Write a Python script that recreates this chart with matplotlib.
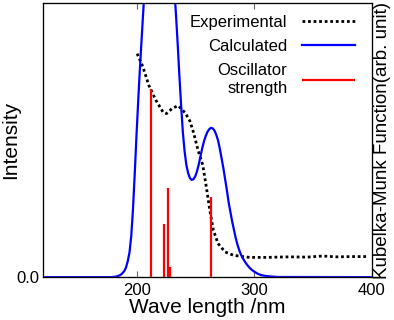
import numpy as np
import matplotlib
matplotlib.use("Agg")
from matplotlib import pyplot as plt

plt.rcParams['font.family'] = ['Liberation Sans', 'DejaVu Sans']

# experimental Kubelka-Munk curve
exp_wl = [200, 205, 210, 216, 222, 225, 230, 235, 241, 245, 248, 252, 256, 259, 262,
          265, 269, 275, 282, 290, 296, 310, 330, 345, 358, 370, 385, 397]
exp_val = [0.816, 0.767, 0.700, 0.646, 0.603, 0.597, 0.616, 0.626, 0.600, 0.570, 0.530,
           0.463, 0.41, 0.33, 0.245, 0.172, 0.123, 0.092, 0.080, 0.075, 0.072, 0.072,
           0.074, 0.073, 0.077, 0.074, 0.075, 0.075]

# calculated spectrum (values above 1 are clipped by the axes)
calc_wl = [120, 178, 182, 185, 187, 189, 190.5, 192, 193.5, 195, 196.5, 198, 199.5,
           201, 202.5, 204, 205.5, 207, 210, 214, 218, 222, 226, 229, 231, 233, 234.5,
           236, 237.5, 239, 240.5, 242, 243.5, 245, 246.5, 248, 249.5, 251, 252.5, 254,
           255.5, 257, 258.5, 260, 261.5, 263, 264.5, 266, 267.5, 269, 270.5, 272,
           273.5, 275, 276.5, 278, 279.5, 281, 282.5, 284, 285.5, 287, 288.5, 290, 292,
           294, 296, 298, 300, 303, 306, 310, 315, 320, 400]
calc_val = [0.0, 0.0, 0.002, 0.006, 0.012, 0.022, 0.035, 0.058, 0.09, 0.15, 0.25, 0.38,
            0.52, 0.65, 0.77, 0.88, 0.99, 1.09, 1.25, 1.4, 1.47, 1.45, 1.35, 1.22, 1.10,
            0.97, 0.86, 0.74, 0.63, 0.53, 0.46, 0.41, 0.38, 0.362, 0.355, 0.357, 0.367,
            0.385, 0.41, 0.44, 0.47, 0.495, 0.515, 0.53, 0.54, 0.545, 0.543, 0.535, 0.52,
            0.50, 0.47, 0.435, 0.40, 0.36, 0.32, 0.275, 0.24, 0.205, 0.175, 0.145, 0.12,
            0.10, 0.083, 0.07, 0.056, 0.044, 0.034, 0.026, 0.02, 0.012, 0.007, 0.004,
            0.002, 0.0005, 0.0]

# oscillator strengths
osc_wl = [212.2, 223.2, 226.6, 228.0, 262.9]
osc_val = [0.686, 0.193, 0.325, 0.036, 0.292]

fig = plt.figure(figsize=(3.94, 3.2), dpi=100)
ax = fig.add_axes([0.110, 0.134, 0.833, 0.856])

ax.plot(exp_wl, exp_val, color="black", linestyle=(0, (1, 1)), linewidth=2.0, label="Experimental")
ax.plot(calc_wl, calc_val, color="blue", linewidth=1.6, label="Calculated")
ax.vlines(osc_wl, 0, osc_val, color="red", linewidth=1.6, label="Oscillator\nstrength")

ax.set_xlim(120, 400)
ax.set_ylim(0, 1.0)
ax.set_xticks([200, 300, 400])
ax.set_yticks([0.0])
ax.set_yticklabels(["0.0"])
ax.tick_params(axis="x", direction="in", top=True, length=4, labelsize=12, color="0.4", pad=4)
ax.tick_params(axis="y", length=0, labelsize=12, pad=3)
for s in ax.spines.values():
    s.set_color("0.45")
    s.set_linewidth(1.0)

ax.set_xlabel("Wave length /nm", fontsize=15, labelpad=0)
ax.set_ylabel("Intensity", fontsize=15)
ax.yaxis.set_label_coords(-0.072, 0.5)

ax2 = ax.twinx()
ax2.set_yticks([])
ax2.set_ylabel("Kubelka-Munk Function(arb. unit)", fontsize=13.5, labelpad=2)

leg = ax.legend(loc="upper right", frameon=False, markerfirst=False, fontsize=12,
                handlelength=3.2, handletextpad=0.85, labelspacing=0.55,
                borderaxespad=0.3, bbox_to_anchor=(0.985, 1.0))
for t in leg.get_texts():
    t.set_ha("right")

fig.savefig("out.png", dpi=100)
